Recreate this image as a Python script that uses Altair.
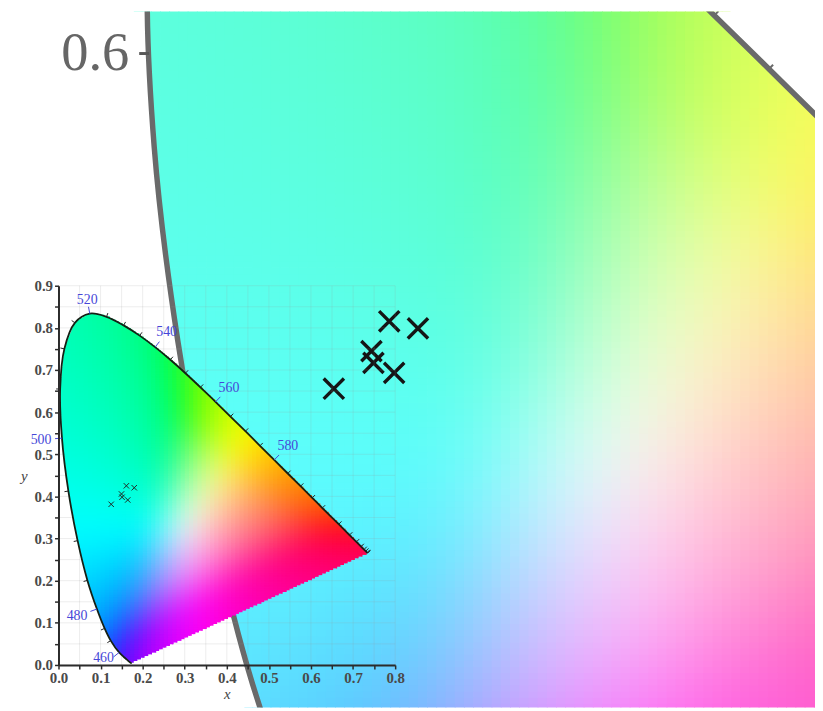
import numpy as np
import pandas as pd
import altair as alt

alt.data_transformers.disable_max_rows()

# ---------------- data ----------------
# CIE 1931 2-degree spectral locus (wavelength nm, x, y)
WL = [380, 390, 400, 410, 420, 430, 440, 450, 460, 470, 475, 480, 485, 490, 495,
      500, 505, 510, 515, 520, 525, 530, 535, 540, 545, 550, 555, 560, 565, 570,
      575, 580, 585, 590, 595, 600, 610, 620, 630, 640, 650, 660, 680, 700]
LX = [0.1741, 0.1738, 0.1733, 0.1726, 0.1714, 0.1689, 0.1644, 0.1566, 0.1440, 0.1241,
      0.1096, 0.0913, 0.0687, 0.0454, 0.0235, 0.0082, 0.0039, 0.0139, 0.0389, 0.0743,
      0.1142, 0.1547, 0.1929, 0.2296, 0.2658, 0.3016, 0.3373, 0.3731, 0.4087, 0.4441,
      0.4788, 0.5125, 0.5448, 0.5752, 0.6029, 0.6270, 0.6658, 0.6915, 0.7079, 0.7190,
      0.7260, 0.7300, 0.7334, 0.7347]
LY = [0.0050, 0.0049, 0.0048, 0.0048, 0.0051, 0.0069, 0.0109, 0.0177, 0.0297, 0.0578,
      0.0868, 0.1327, 0.2007, 0.2950, 0.4127, 0.5384, 0.6548, 0.7502, 0.8120, 0.8338,
      0.8262, 0.8059, 0.7816, 0.7543, 0.7243, 0.6923, 0.6589, 0.6245, 0.5896, 0.5547,
      0.5202, 0.4866, 0.4544, 0.4242, 0.3965, 0.3725, 0.3340, 0.3083, 0.2920, 0.2809,
      0.2740, 0.2700, 0.2666, 0.2653]

# measured chromaticities (the X markers)
SAMPLE_X = [0.1613, 0.1800, 0.1497, 0.1510, 0.1645, 0.1252]
SAMPLE_Y = [0.4252, 0.4206, 0.4058, 0.3981, 0.3916, 0.3813]

LABEL_WL = [460, 480, 500, 520, 540, 560, 580]
INSET_TICK_WL = [460, 470, 475, 480, 485, 490, 495, 500, 505, 510, 515, 520, 525, 530,
                 535, 540, 545, 550, 555, 560, 565, 570, 575, 580, 585, 590, 595, 600,
                 610, 620, 630, 640, 650, 660, 680, 700]
BG_TICK_WL = [560, 565]

INSET_X_TICKS = [0.0, 0.05, 0.1, 0.15, 0.2, 0.25, 0.3, 0.35, 0.4, 0.45, 0.5, 0.55,
                 0.6, 0.65, 0.7, 0.75, 0.8]
INSET_Y_TICKS = [0.0, 0.05, 0.1, 0.15, 0.2, 0.25, 0.3, 0.35, 0.4, 0.45, 0.5, 0.55,
                 0.6, 0.65, 0.7, 0.75, 0.8, 0.85, 0.9]
BG_Y_TICKS = [0.6]

# ---------------- geometry ----------------
W, H = 815, 703
BG_S, BG_X0, BG_Y0 = 1550.0, 135.0, 972.0
bg_xdom = [-BG_X0 / BG_S, (W - BG_X0) / BG_S]
bg_ydom = [(BG_Y0 - H) / BG_S, BG_Y0 / BG_S]
IN_S = 425.0
in_xrange = [51, 391]
in_yrange = [660, 277]

lx = np.array(LX)
ly = np.array(LY)
i420, i520 = WL.index(420), WL.index(520)
left_y, left_x = ly[i420:i520 + 1], lx[i420:i520 + 1]
right_y, right_x = ly[i520:][::-1], lx[i520:][::-1]


def Lf(y):
    return float(np.interp(y, left_y, left_x))


def Rf(y):
    if y >= LY[-1]:
        return float(np.interp(y, right_y, right_x))
    return LX[0] + (y - LY[0]) / (LY[-1] - LY[0]) * (LX[-1] - LX[0])


def chroma_float(x, y):
    X = x / y
    Z = (1 - x - y) / y
    r = 3.2406 * X - 1.5372 - 0.4986 * Z
    g = -0.9689 * X + 1.8758 + 0.0415 * Z
    b = 0.0557 * X - 0.2040 + 1.0570 * Z
    rgb = np.stack([r, g, b], axis=-1)
    rgb = rgb - np.minimum(rgb.min(axis=-1, keepdims=True), 0)
    rgb = rgb / rgb.max(axis=-1, keepdims=True)
    rgb = np.clip(rgb, 0, None)
    return np.where(rgb <= 0.0031308, 12.92 * rgb, 1.055 * np.power(rgb, 1 / 2.4) - 0.055)


def chroma_hex(xc, yc, blend, sigma):
    xc = np.asarray(xc, float)
    yc = np.asarray(yc, float)
    offs = np.linspace(-2 * sigma, 2 * sigma, 9)
    ox, oy = np.meshgrid(offs, offs)
    w = np.exp(-(ox ** 2 + oy ** 2) / (2 * sigma ** 2)).ravel()
    w = w / w.sum()
    X = np.clip(xc[:, None] + ox.ravel()[None, :], 0.0, None)
    Y = np.clip(yc[:, None] + oy.ravel()[None, :], 0.01, None)
    rgb = (chroma_float(X, Y) * w[None, :, None]).sum(axis=1)
    rgb = rgb * (1 - blend) + blend
    rgb8 = np.clip(np.round(rgb * 255), 0, 255).astype(int)
    return ['#%02x%02x%02x' % tuple(c) for c in rgb8]


def build_cells(y_lo, n_rows, dy, dx, xclip, margin, ov, blend, sigma):
    recs = []
    for k in range(n_rows):
        y0 = y_lo + k * dy
        y1 = y0 + dy
        yc = 0.5 * (y0 + y1)
        if margin > 0:
            L = min(Lf(y0), Lf(y1)) - margin
            R = max(Rf(y0), Rf(y1)) + margin
        else:
            L, R = Lf(yc), Rf(yc)
        L, R = max(L, xclip[0]), min(R, xclip[1])
        if R <= L:
            continue
        edges = [L]
        e = np.ceil(L / dx) * dx
        while e < R - 1e-9:
            if e > L + 1e-9:
                edges.append(e)
            e += dx
        edges.append(R)
        for j, (a, b) in enumerate(zip(edges[:-1], edges[1:])):
            b2 = b + ov if j < len(edges) - 2 else b
            y2 = y1 + ov if k < n_rows - 1 else y1
            recs.append((a, b2, y0, y2, 0.5 * (a + b), yc))
    df = pd.DataFrame(recs, columns=['x', 'x2', 'y', 'y2', 'xc', 'yc'])
    df['c'] = chroma_hex(df['xc'].values, df['yc'].values, blend, sigma)
    return df[['x', 'x2', 'y', 'y2', 'c']].round(5)


bg_cells = build_cells(0.172, 114, 0.004, 0.006, bg_xdom, 0.01, 0.0005, 0.36, 0.035)
in_cells = build_cells(0.0052, 207, 0.004, 0.01, [0, 1], 0.0, 0.0022, 0.0, 0.04)

locus = pd.DataFrame({'wl': WL, 'x': LX, 'y': LY})
i480, i510 = WL.index(480), WL.index(510)
i540, i585 = WL.index(540), WL.index(585)
mask_left = pd.DataFrame({'y': LY[i480:i510 + 1], 'x': [-0.3] * (i510 - i480 + 1),
                          'x2': LX[i480:i510 + 1]})
mask_right = pd.DataFrame({'y': LY[i540:i585 + 1][::-1], 'x': LX[i540:i585 + 1][::-1],
                           'x2': [1.0] * (i585 - i540 + 1)})


def tick_table(wls, scale, small_len, big_len, min_label_y):
    rows = []
    for w in wls:
        i = WL.index(w)
        p, n = max(i - 1, 0), min(i + 1, len(WL) - 1)
        tx, ty = LX[n] - LX[p], LY[n] - LY[p]
        norm = np.hypot(tx, ty)
        nx, ny = -ty / norm, tx / norm
        ln = big_len if w in LABEL_WL else small_len
        d = (ln + 2 + abs(nx) * 12 + abs(ny) * 3) / scale
        rows.append({'wl': w, 'x': LX[i], 'y': LY[i],
                     'x2': LX[i] + nx * ln / scale, 'y2': LY[i] + ny * ln / scale,
                     'lx': LX[i] + nx * d, 'ly': max(LY[i] + ny * d, min_label_y),
                     'lab': str(w), 'big': w in LABEL_WL})
    return pd.DataFrame(rows)


# labels are kept clear of the x axis labels (>= 0.017 in y)
in_ticks = tick_table(INSET_TICK_WL, IN_S, 4, 7, 0.017)
in_labels = in_ticks[in_ticks['big']]
bg_ticks = tick_table(BG_TICK_WL, BG_S, 6, 6, -1.0)
samples = pd.DataFrame({'x': SAMPLE_X, 'y': SAMPLE_Y})

gv = pd.DataFrame({'x': INSET_X_TICKS, 'y': [0.0] * len(INSET_X_TICKS),
                   'y2': [0.9] * len(INSET_X_TICKS)})
gh = pd.DataFrame({'y': INSET_Y_TICKS, 'x': [0.0] * len(INSET_Y_TICKS),
                   'x2': [0.8] * len(INSET_Y_TICKS)})

# ---------------- scales / axes ----------------
bgx = alt.Scale(domain=bg_xdom, range=[0, W], zero=False, nice=False)
bgy = alt.Scale(domain=bg_ydom, range=[H, 0], zero=False, nice=False)
inx = alt.Scale(domain=[0, 0.8], range=in_xrange, zero=False, nice=False)
iny = alt.Scale(domain=[0, 0.9], range=in_yrange, zero=False, nice=False)

bg_yaxis = alt.Axis(values=BG_Y_TICKS, orient='left', offset=-142, domain=False, grid=False,
                    tickSize=10, tickWidth=3, tickColor='#585858', format='.1f',
                    labelFont='Liberation Serif', labelFontSize=55, labelColor='#666666',
                    labelPadding=10, title=None, zindex=1)
lab_expr = "abs(datum.value*10 - round(datum.value*10)) < 0.001 ? format(datum.value, '.1f') : ''"
common_axis = dict(domainColor='#2b2b2b', domainWidth=2, tickColor='#2b2b2b', tickWidth=1.5,
                   tickSize=4, labelFont='Liberation Serif', labelFontWeight='bold',
                   labelFontSize=15, labelColor='#4a4a4a', labelPadding=2, grid=False,
                   labelOverlap=False, labelFlush=False, labelExpr=lab_expr, zindex=1,
                   titleFont='Liberation Serif', titleFontStyle='italic',
                   titleFontWeight='normal', titleFontSize=15, titleColor='#444444')
in_xaxis = alt.Axis(values=INSET_X_TICKS, orient='bottom', offset=-43, title='x',
                    titlePadding=1, **common_axis)
in_yaxis = alt.Axis(values=INSET_Y_TICKS, orient='left', offset=-51, title='y',
                    titleAngle=0, titleAlign='right', titleBaseline='middle',
                    titlePadding=7, **common_axis)


def BX(f):
    return alt.X(f, type='quantitative', scale=bgx, axis=None)


def BY(f):
    return alt.Y(f, type='quantitative', scale=bgy, axis=bg_yaxis)


def IX(f):
    return alt.X(f, type='quantitative', scale=inx, axis=in_xaxis)


def IY(f):
    return alt.Y(f, type='quantitative', scale=iny, axis=in_yaxis)


# ---------------- background (zoomed) diagram ----------------
bg_fill = alt.Chart(bg_cells).mark_rect(clip=True).encode(
    x=BX('x'), x2='x2', y=BY('y'), y2='y2', color=alt.Color('c:N', scale=None))
bg_mask_l = alt.Chart(mask_left).mark_area(orient='horizontal', color='white', clip=True,
                                           interpolate='catmull-rom').encode(
    y=BY('y'), x=BX('x'), x2='x2')
bg_mask_r = alt.Chart(mask_right).mark_area(orient='horizontal', color='white', clip=True,
                                            interpolate='catmull-rom').encode(
    y=BY('y'), x=BX('x'), x2='x2')
bg_line = alt.Chart(locus).mark_line(clip=True, color='#6a6a6a', strokeWidth=5.5,
                                     interpolate='catmull-rom').encode(
    x=BX('x'), y=BY('y'), order='wl:Q')
bg_tk = alt.Chart(bg_ticks).mark_rule(clip=True, color='#6a6a6a', strokeWidth=2).encode(
    x=BX('x'), y=BY('y'), x2='x2', y2='y2')
bg_pts = alt.Chart(samples).mark_point(shape='M-1,-1L1,1M-1,1L1,-1', size=420, strokeWidth=3.4,
                                       color='#151515', opacity=1).encode(
    x=BX('x'), y=BY('y'))
background = alt.layer(bg_fill, bg_mask_l, bg_mask_r, bg_line, bg_tk, bg_pts)

# ---------------- inset diagram ----------------
grid_v = alt.Chart(gv).mark_rule(color='#9a9a9a', strokeWidth=1, opacity=0.18).encode(
    x=IX('x'), y=IY('y'), y2='y2')
grid_h = alt.Chart(gh).mark_rule(color='#9a9a9a', strokeWidth=1, opacity=0.18).encode(
    y=IY('y'), x=IX('x'), x2='x2')
in_fill = alt.Chart(in_cells).mark_rect().encode(
    x=IX('x'), x2='x2', y=IY('y'), y2='y2', color=alt.Color('c:N', scale=None))
in_line = alt.Chart(locus).mark_line(color='#152015', strokeWidth=1.8,
                                     interpolate='catmull-rom').encode(
    x=IX('x'), y=IY('y'), order='wl:Q')
in_tk = alt.Chart(in_ticks).mark_rule(strokeWidth=1).encode(
    x=IX('x'), y=IY('y'), x2='x2', y2='y2',
    color=alt.Color('big:N', scale=alt.Scale(domain=[True, False], range=['#4646d8', '#202020']),
                    legend=None))
in_lab = alt.Chart(in_labels).mark_text(font='Liberation Serif', fontSize=14, color='#4646d8',
                                        align='center', baseline='middle').encode(
    x=IX('lx'), y=IY('ly'), text='lab:N')
in_pts = alt.Chart(samples).mark_point(shape='M-1,-1L1,1M-1,1L1,-1', size=30, strokeWidth=1,
                                       color='#1f2a24', opacity=1).encode(
    x=IX('x'), y=IY('y'))
inset = alt.layer(grid_v, grid_h, in_fill, in_line, in_tk, in_lab, in_pts)

chart = alt.layer(background, inset).resolve_scale(
    x='independent', y='independent', color='independent'
).properties(
    width=W, height=H, padding=0, autosize=alt.AutoSizeParams(type='none'),
    background='white'
).configure_view(strokeWidth=0)

chart.save("out.html", embed_options={"renderer": "svg", "actions": False})
